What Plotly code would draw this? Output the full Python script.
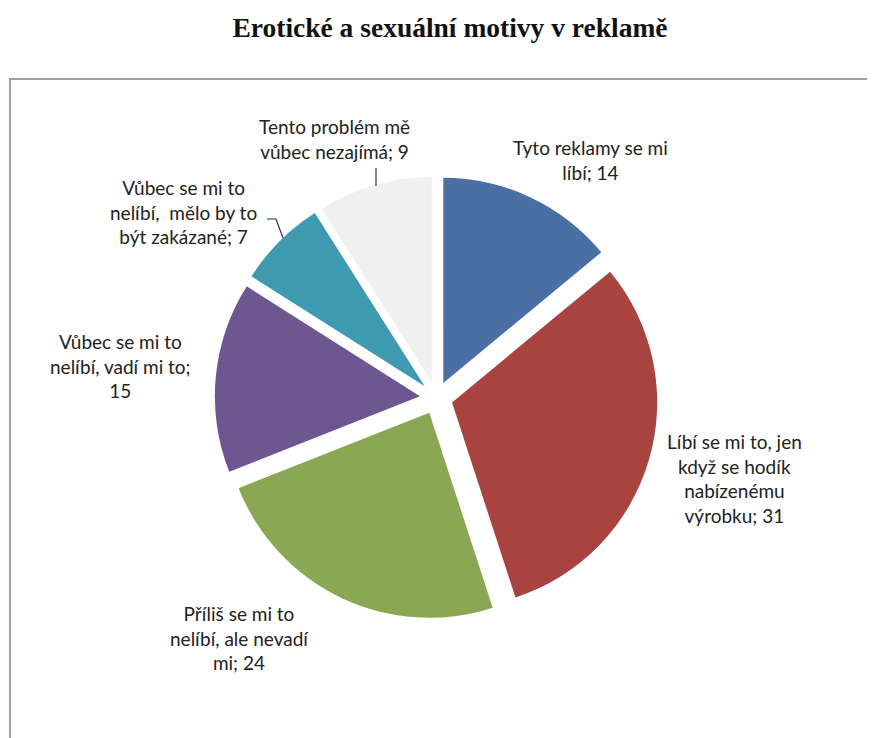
import plotly.graph_objects as go

# Data
categories = [
    "Tyto reklamy se mi líbí",
    "Líbí se mi to, jen když se hodí nabízenému výrobku",
    "Příliš se mi to nelíbí, ale nevadí mi",
    "Vůbec se mi to nelíbí, vadí mi to",
    "Vůbec se mi to nelíbí,  mělo by to být zakázané",
    "Tento problém mě vůbec nezajímá",
]
values = [14, 31, 24, 15, 7, 9]
label_lines = [
    "Tyto reklamy se mi<br>líbí; 14",
    "Líbí se mi to, jen<br>když se hodík<br>nabízenému<br>výrobku; 31",
    "Příliš se mi to<br>nelíbí, ale nevadí<br>mi; 24",
    "Vůbec se mi to<br>nelíbí, vadí mi to;<br>15",
    "Vůbec se mi to<br>nelíbí,  mělo by to<br>být zakázané; 7",
    "Tento problém mě<br>vůbec nezajímá; 9",
]
colors = ["#4A6FA4", "#A8433F", "#8AA753", "#6E5790", "#3D9AB1", "#F0F0F0"]

# Layout (page pixels; the browser body adds an 8px margin)
OFF = 8
W, H = 875 - OFF, 738 - OFF
label_centers_px = [(590, 160), (734, 478), (240, 638), (121, 366), (183, 212), (334, 139)]
leader_paths_px = [
    [(376, 168), (376, 186)],
    [(267, 219), (276, 219), (283, 238)],
]


def px(x, y):
    return (x - OFF) / W, 1 - (y - OFF) / H


fig = go.Figure(go.Pie(
    labels=categories,
    values=values,
    textinfo="none",
    hoverinfo="label+value",
    sort=False,
    direction="clockwise",
    rotation=0,
    pull=[0.08] * len(values),
    marker=dict(colors=colors, line=dict(color="white", width=0)),
    showlegend=False,
    domain=dict(x=[0.2385, 0.7495], y=[0.162, 0.770]),
))

annotations = []
for txt, (cx, cy) in zip(label_lines, label_centers_px):
    ax_, ay_ = px(cx, cy)
    annotations.append(dict(
        text=txt, x=ax_, y=ay_, xref="paper", yref="paper",
        xanchor="center", yanchor="middle", align="center", showarrow=False,
        font=dict(family="Lato, Carlito, sans-serif", size=19, color="#222222"),
    ))

shapes = [dict(
    type="rect", xref="paper", yref="paper",
    x0=px(10, 0)[0], x1=1.05, y0=-0.05, y1=px(0, 79)[1],
    line=dict(color="#a0a0a0", width=2),
    fillcolor="rgba(0,0,0,0)",
    layer="below",
)]
for pts in leader_paths_px:
    p = [px(x, y) for x, y in pts]
    path = "M " + " L ".join(f"{a},{b}" for a, b in p)
    shapes.append(dict(type="path", xref="paper", yref="paper", path=path,
                       line=dict(color="#333333", width=1.2)))

fig.update_layout(
    width=W,
    height=H,
    margin=dict(l=0, r=0, t=0, b=0),
    paper_bgcolor="white",
    plot_bgcolor="white",
    title=dict(
        text="<b>Erotické a sexuální motivy v reklamě</b>",
        x=px(450, 0)[0], xanchor="center",
        y=px(0, 27)[1], yanchor="middle",
        font=dict(family="Liberation Serif, Times New Roman, serif", size=27.5, color="#111111"),
    ),
    annotations=annotations,
    shapes=shapes,
)

fig.write_html("out.html")
